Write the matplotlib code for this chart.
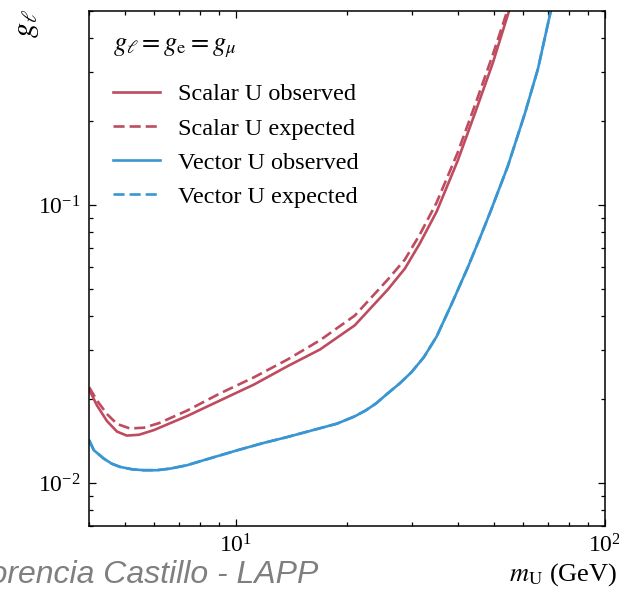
import numpy as np
import matplotlib
matplotlib.use("Agg")
import matplotlib.pyplot as plt
from matplotlib import rcParams

rcParams['font.family'] = 'serif'
rcParams['font.serif'] = ['Liberation Serif', 'DejaVu Serif']
rcParams['mathtext.fontset'] = 'stix'
rcParams['font.size'] = 16

# limits on the coupling vs. U boson mass (GeV)
m_scalar_obs = [4.0, 4.20, 4.47, 4.76, 5.06, 5.46, 6.0, 7.37, 9.06, 11.2, 13.8, 16.9,
                21.0, 25.8, 28.7, 31.5, 35.0, 39.9, 44.7, 49.7, 54.9, 56.0]
g_scalar_obs = [0.0217, 0.0190, 0.0167, 0.0153, 0.0148, 0.0149, 0.0155, 0.0174, 0.0198,
                0.0226, 0.0263, 0.0302, 0.0369, 0.0496, 0.0590, 0.0726, 0.0946, 0.144,
                0.218, 0.324, 0.495, 0.542]

m_scalar_exp = [4.0, 4.20, 4.47, 4.76, 5.16, 5.63, 6.18, 7.37, 9.06, 11.2, 13.8, 16.9,
                21.0, 25.8, 28.7, 31.5, 35.0, 39.9, 44.7, 49.7, 55.3]
g_scalar_exp = [0.0221, 0.0198, 0.0177, 0.0163, 0.0157, 0.0158, 0.0164, 0.0182, 0.0210,
                0.0240, 0.0278, 0.0326, 0.0400, 0.0539, 0.0636, 0.0782, 0.102, 0.154,
                0.233, 0.347, 0.533]

m_vector_obs = [4.0, 4.12, 4.38, 4.61, 4.85, 5.22, 5.62, 6.11, 6.64, 7.37, 8.18, 10.1,
                11.8, 13.8, 16.1, 18.8, 21.0, 22.5, 24.0, 25.8, 27.8, 29.9, 32.3, 35.0,
                38.4, 42.5, 45.8, 49.1, 54.6, 60.7, 65.9, 71.0, 72.3]
g_vector_obs = [0.01423, 0.01311, 0.01224, 0.01172, 0.01142, 0.01120, 0.01111, 0.01111,
                0.01126, 0.01158, 0.01207, 0.01311, 0.01389, 0.01463, 0.01546, 0.01634,
                0.01736, 0.01824, 0.01933, 0.0210, 0.0228, 0.0250, 0.0283, 0.0336,
                0.0439, 0.0595, 0.0757, 0.0954, 0.138, 0.213, 0.309, 0.483, 0.542]

# expected vector limit lies on top of the observed one
m_vector_exp = m_vector_obs
g_vector_exp = g_vector_obs

red = '#bf4b5f'
blue = '#3a96d2'

fig = plt.figure(figsize=(6.19, 5.97), dpi=100)
ax = fig.add_axes([0.144, 0.119, 0.833, 0.863])

ax.plot(m_scalar_obs, g_scalar_obs, color=red, lw=1.9, ls='-', label='Scalar U observed')
ax.plot(m_scalar_exp, g_scalar_exp, color=red, lw=1.9, ls='--', dashes=(4.2, 1.9),
        label='Scalar U expected')
ax.plot(m_vector_exp, g_vector_exp, color=blue, lw=1.9, ls='--', dashes=(4.2, 1.9),
        label='Vector U expected')
ax.plot(m_vector_obs, g_vector_obs, color=blue, lw=1.9, ls='-', label='Vector U observed')

ax.set_xscale('log')
ax.set_yscale('log')
ax.set_xlim(4, 100)
ax.set_ylim(0.007, 0.5)

ax.tick_params(axis='both', which='both', direction='in', top=True, right=True, width=0.9)
ax.tick_params(axis='both', which='major', length=5, labelsize=17, pad=6)
ax.tick_params(axis='both', which='minor', length=3)
for s in ax.spines.values():
    s.set_linewidth(1.1)

ax.text(0.0465, 0.927, r'$g_\ell = g_{\rm e} = g_\mu$', transform=ax.transAxes,
        fontsize=19, ha='left', va='center')

handles, labels = ax.get_legend_handles_labels()
order = [0, 1, 3, 2]
ax.legend([handles[i] for i in order], [labels[i] for i in order],
          loc='upper left', bbox_to_anchor=(0.0277, 0.878), frameon=False, fontsize=17.5,
          handlelength=1.93, handletextpad=0.74, labelspacing=0.5, borderaxespad=0)

fig.text(0.02, 0.985, r'$g_\ell$', rotation=90, fontsize=22, ha='left', va='top')
fig.text(0.998, 0.028, r'$m_{\rm U}$ (GeV)', fontsize=19, ha='right', va='baseline')
fig.text(0.514, 0.024, 'Florencia Castillo - LAPP', fontsize=23, ha='right', va='baseline',
         color='#7f7f7f', style='italic', family='Liberation Sans')

fig.savefig('out.png', dpi=100)
